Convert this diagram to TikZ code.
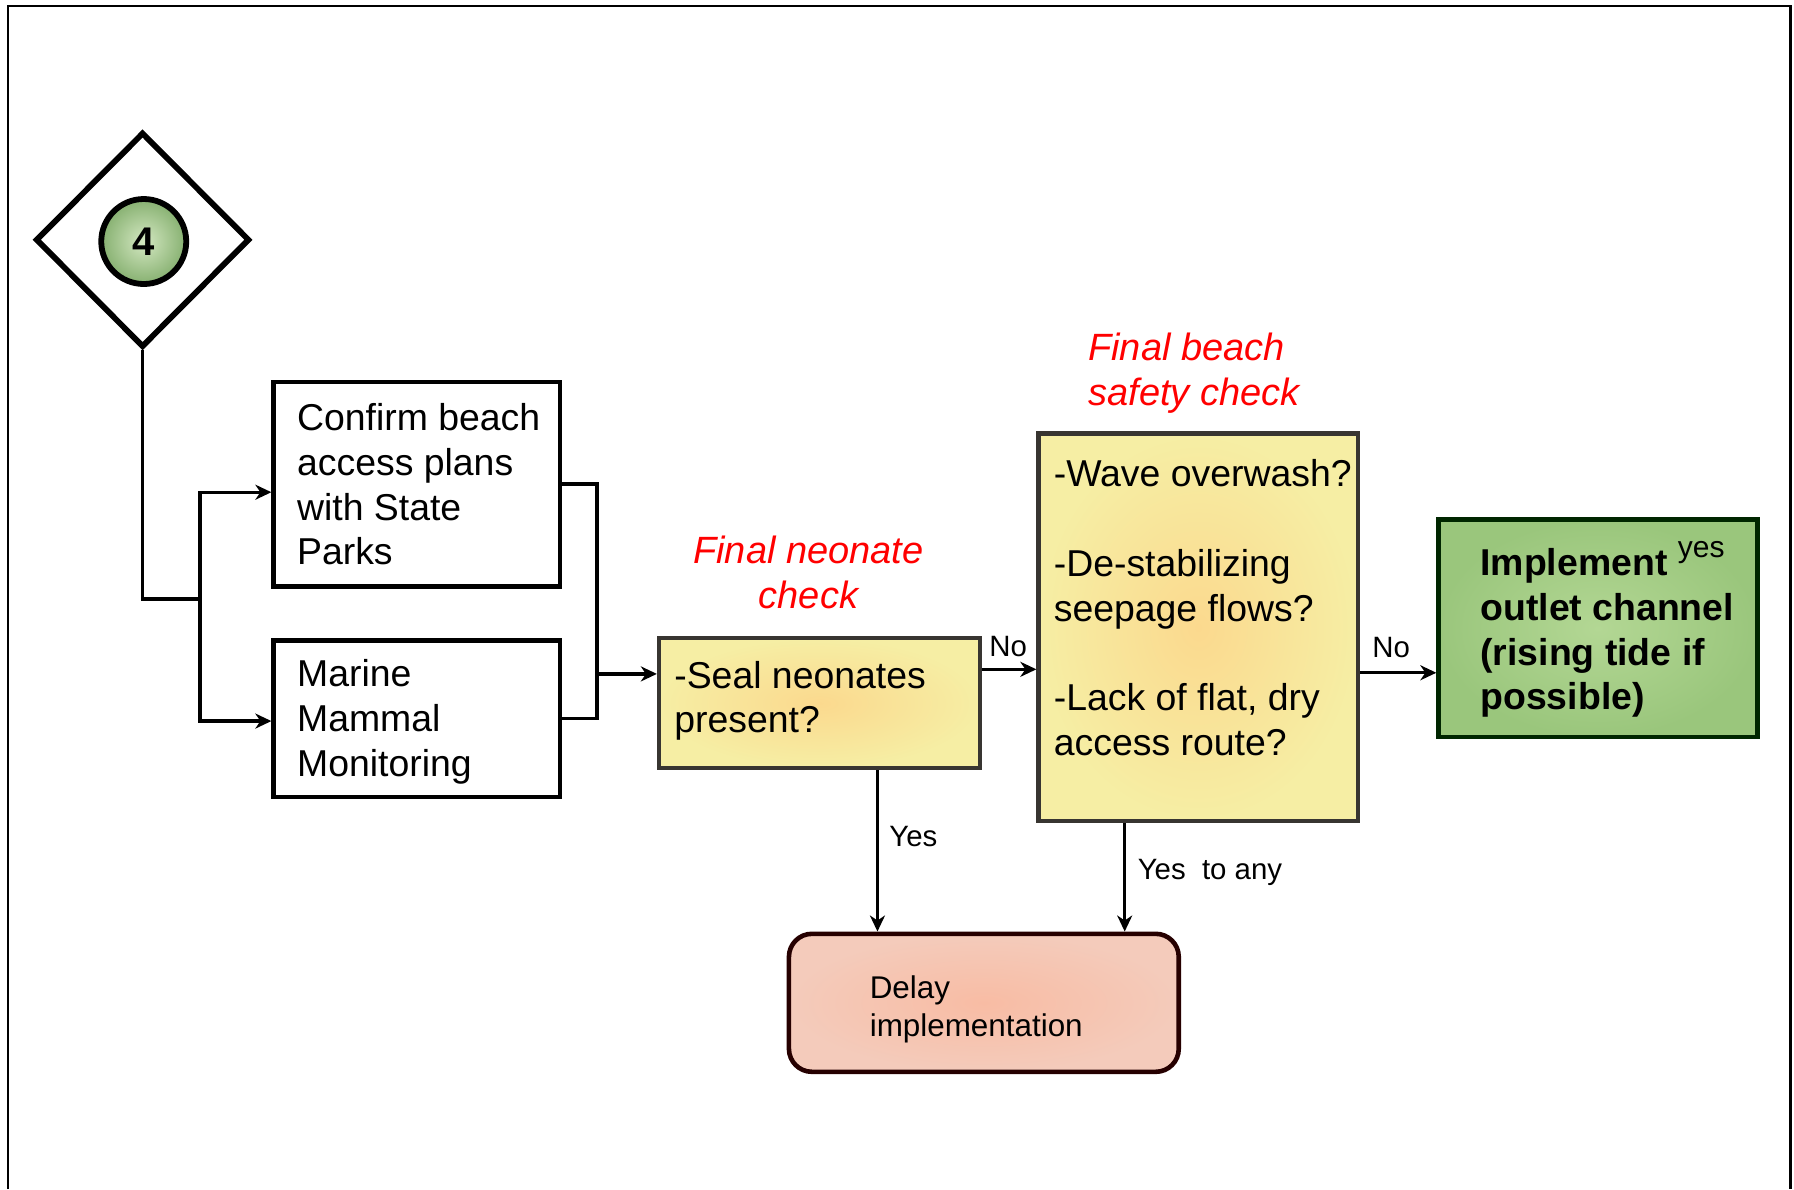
\documentclass[tikz,border=0pt]{standalone}
\usepackage{fontspec}
\setmainfont{Liberation Sans}
\usetikzlibrary{shapes.geometric,arrows.meta,calc}
\newcommand{\mystrut}{\rule{0pt}{0.75em}}
\definecolor{ylin}{HTML}{FBD98E}
\definecolor{ylout}{HTML}{F6EEA4}
\definecolor{grin}{HTML}{B3D794}
\definecolor{grout}{HTML}{9AC67C}
\definecolor{dlin}{HTML}{F8BCA4}
\definecolor{dlout}{HTML}{F4CBBB}
\definecolor{c4in}{HTML}{D4E8C2}
\definecolor{c4out}{HTML}{86B070}
\definecolor{titlered}{HTML}{FF0000}
\begin{document}
\begin{tikzpicture}[x=0.575pt,y=-0.575pt,
  plainbox/.style={draw=black, line width=2.3pt, fill=white, rectangle, inner sep=0pt},
  yelbox/.style={draw=black!90!yellow, line width=2.1pt, rectangle, inner sep=0pt, inner color=ylin, outer color=ylout},
  grnbox/.style={draw=black!85!green, line width=2.3pt, rectangle, inner sep=0pt, inner color=grin, outer color=grout},
  delaybox/.style={draw=black!85!red, line width=2.3pt, rectangle, rounded corners=11.5pt, inner sep=0pt, inner color=dlin, outer color=dlout},
  maintext/.style={anchor=north west, inner sep=0pt, align=left, font=\fontsize{18.7pt}{22.4pt}\selectfont},
  boldtext/.style={maintext, font=\fontsize{18.7pt}{22.4pt}\selectfont\bfseries},
  redtitle/.style={inner sep=0pt, text=titlered, font=\fontsize{19pt}{22.4pt}\selectfont\itshape},
  lbl/.style={anchor=base west, inner sep=0pt, font=\fontsize{14.7pt}{17.6pt}\selectfont},
  conn/.style={draw=black, line width=1.7pt},
  arr/.style={conn, -{Stealth[length=8pt,width=7.5pt,inset=2.5pt]}}
]
\useasboundingbox (0,0) rectangle (1560,1034);
% frame
\draw[line width=1.2pt] (7,1034) -- (7,5) -- (1557,5) -- (1557,1034);

% diamond and circle
\node[diamond, draw=black, line width=2.9pt, fill=white, inner sep=0pt,
      minimum width=107pt, minimum height=107.5pt] (d4) at (124,208.5) {};
\node[circle, draw=black, line width=2.9pt, inner sep=0pt, minimum size=42.5pt,
      inner color=c4in, outer color=c4out, font=\fontsize{20pt}{24pt}\selectfont\bfseries] (c4) at (125,210) {4};

% boxes
\node[plainbox, minimum width=143.2pt, minimum height=102.35pt] (b1) at (362.5,421) {};
\node[plainbox, minimum width=143.2pt, minimum height=78.2pt] (b2) at (362.5,625) {};
\node[yelbox, minimum width=160.4pt, minimum height=65pt] (y1) at (712.5,611.5) {};
\node[yelbox, minimum width=159.85pt, minimum height=193.8pt] (y2) at (1042,545.5) {};
\node[grnbox, minimum width=159.3pt, minimum height=108.7pt] (gr) at (1389.5,546.5) {};
\node[delaybox, minimum width=194.9pt, minimum height=69pt] (dl) at (855.5,872) {};

% box texts
\node[maintext] (b1t) at (258,349.6) {\mystrut Confirm beach\\access plans\\with State\\Parks};
\node[maintext] (b2t) at (258,572.6) {\mystrut Marine\\Mammal\\Monitoring};
\node[maintext] (y1t) at (586,573.6) {\mystrut -Seal neonates\\present?};
\node[maintext] (y2t) at (916,398.6) {\mystrut -Wave overwash?\\[22.4pt]-De-stabilizing\\seepage flows?\\[22.4pt]-Lack of flat, dry\\access route?};
\node[boldtext] (grt) at (1287,475.6) {\mystrut Implement \smash{\raisebox{9.2pt}{\fontsize{15pt}{18pt}\selectfont\mdseries yes}}\\outlet channel\\(rising tide if\\possible)};
\node[maintext, font=\fontsize{15.7pt}{19pt}\selectfont] (dlt) at (756,847.5) {\mystrut Delay\\implementation};

% red titles
\node[redtitle, anchor=north, align=center] (tn) at (703,465.2) {\mystrut Final neonate\\check};
\node[redtitle, anchor=north west, align=left] (tb) at (946,288.2) {\mystrut Final beach\\safety check};

% connectors
\coordinate (fk) at (174,521);
\draw[conn] (d4.south) |- (fk);
\draw[arr] (fk) |- ($(b1.west)+(0,7)$);
\draw[arr] (fk) |- ($(b2.west)+(0,2)$);

\coordinate (mg) at (519,586);
\draw[conn] (b1.east) -| (mg);
\draw[conn] (b2.east) -| (mg);
\draw[arr] (mg) -- (mg -| y1.west);

\coordinate (n1) at ($(y1.east)+(0,-29.5)$);
\draw[arr] (n1) -- (n1 -| y2.west);
\coordinate (n2) at ($(y2.east)+(0,39.5)$);
\draw[arr] (n2) -- (n2 -| gr.west);

\coordinate (s1) at ($(y1.south)+(50.5,0)$);
\draw[arr] (s1) -- (s1 |- dl.north);
\coordinate (s2) at ($(y2.south)+(-64,0)$);
\draw[arr] (s2) -- (s2 |- dl.north);

% labels
\node[lbl] (ln1) at (860,571) {No};
\node[lbl] (ln2) at (1193,572) {No};
\node[lbl] (ly1) at (773,736) {Yes};
\node[lbl] (ly2) at (989,765) {Yes\ \ to any};
\end{tikzpicture}
\end{document}
